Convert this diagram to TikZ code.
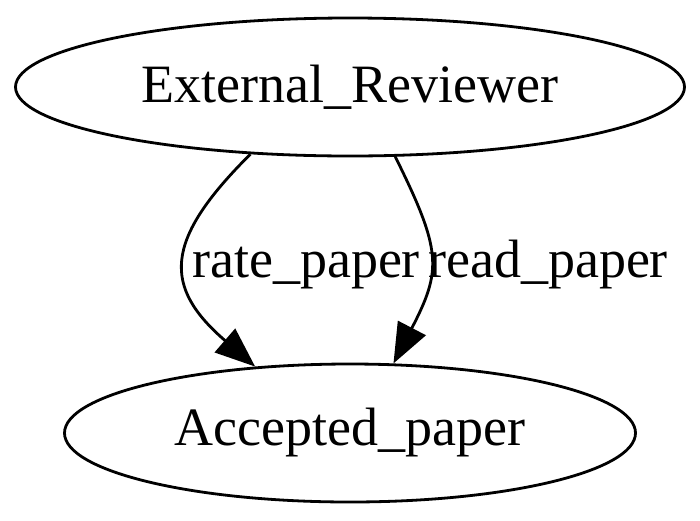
\documentclass[tikz,border=0pt]{standalone}
\usepackage{fontspec}
\setmainfont{Liberation Serif}
\usetikzlibrary{shapes.geometric,arrows.meta}
\begin{document}
\begin{tikzpicture}[x=1pt,y=-1pt,
  stnode/.style={draw,ellipse,line width=2.8pt,inner sep=0pt,font=\fontsize{54}{60}\selectfont},
  edge/.style={line width=2.8pt,-{Triangle[length=40pt,width=31pt]}},
  elabel/.style={font=\fontsize{54}{60}\selectfont,inner sep=0pt,anchor=base}]
\useasboundingbox (0,0) rectangle (700,520);
\node[stnode,minimum width=669pt,minimum height=138pt] (ext) at (350,87) {External\_Reviewer};
\node[stnode,minimum width=571pt,minimum height=138pt] (acc) at (350,433) {Accepted\_paper};
\draw[edge] (ext.214) .. controls (163,241) and (163,287) .. (acc.145);
\draw[edge] (ext.303.5) .. controls (442,251) and (442,270) .. (acc.58.4);
\node[elabel] (l1) at (306,277) {rate\_paper};
\node[elabel] (l2) at (548,277) {read\_paper};
\end{tikzpicture}
\end{document}
